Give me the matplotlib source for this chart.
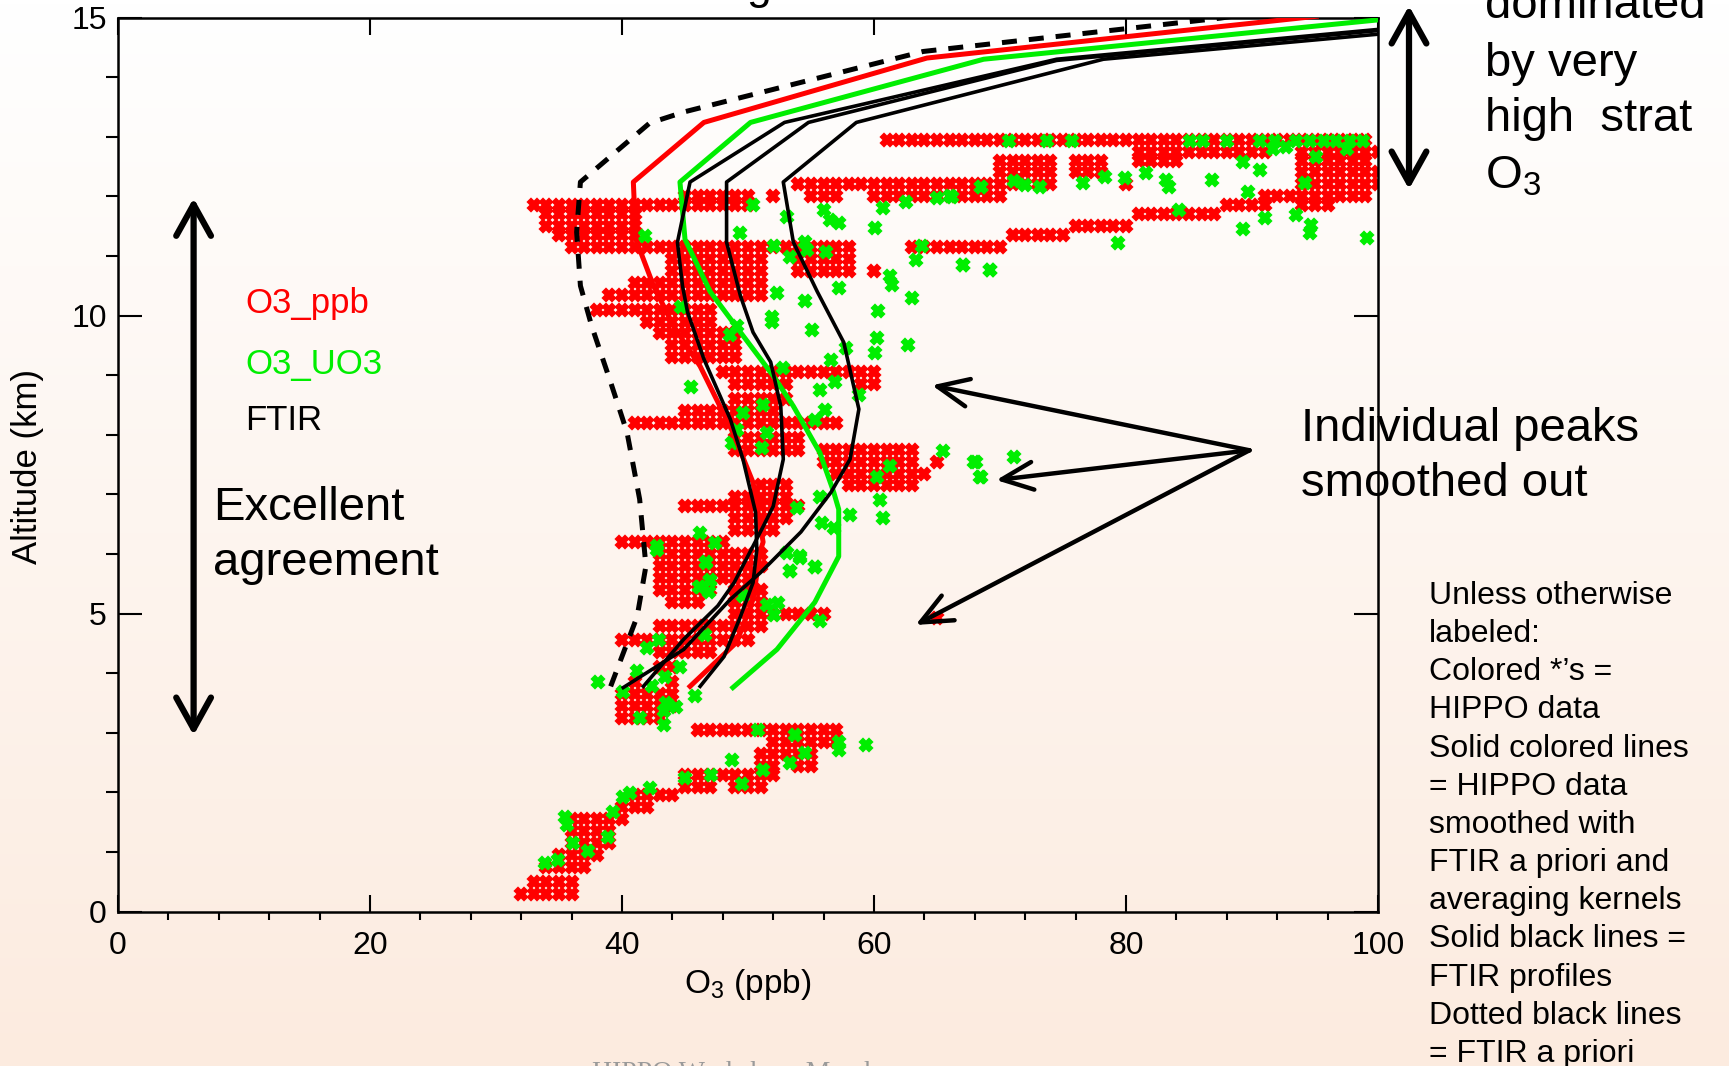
import numpy as np
import matplotlib
matplotlib.use("Agg")
import matplotlib.pyplot as plt

plt.rcParams['font.family'] = ['Liberation Sans', 'DejaVu Sans']
plt.rcParams['mathtext.fontset'] = 'custom'
plt.rcParams['mathtext.rm'] = 'Liberation Sans'
plt.rcParams['mathtext.it'] = 'Liberation Sans:italic'

W, H = 1729, 1066
RED = '#ff0000'
GREEN = '#00ee00'

# smoothed profiles (x = ppb, alt = km)
ppb_alt = [3.78, 4.52, 5.24, 6.07, 6.2, 7.2, 8.04, 9.15, 9.82, 10.5, 11.28, 12.24, 13.24, 14.32, 15.02]
ppb_x = [45.4, 49.1, 50.4, 51.0, 51.2, 50.4, 48.8, 46.2, 44.1, 42.5, 41.1, 40.9, 46.5, 64.2, 95.1]

uo3_alt = [3.76, 4.4, 5.19, 5.96, 6.75, 7.04, 7.7, 8.48, 8.99, 9.72, 10.4, 11.28, 12.24, 13.24, 14.30, 14.96]
uo3_x = [48.8, 52.3, 55.3, 57.2, 57.2, 56.8, 55.7, 53.6, 52.0, 49.4, 47.0, 45.0, 44.6, 50.2, 68.7, 100]

ftir_a_alt = [3.78, 4.28, 4.95, 5.52, 6.07, 6.7, 7.59, 8.26, 9.27, 10.06, 10.5, 11.23, 12.24, 13.24, 14.30, 14.80]
ftir_a_x = [46.2, 48.1, 49.4, 50.4, 50.7, 50.6, 49.6, 48.6, 46.5, 45.2, 44.8, 44.4, 45.4, 52.9, 74.5, 100]

ftir_b_alt = [3.78, 4.57, 5.13, 5.52, 6.46, 6.8, 7.59, 8.48, 9.22, 9.72, 10.33, 11.23, 12.24, 13.24, 14.28, 14.78]
ftir_b_x = [41.7, 44.9, 47.6, 48.9, 51.2, 52.0, 52.8, 52.6, 51.8, 50.4, 49.4, 48.3, 48.3, 54.8, 74.5, 100]

ftir_c_alt = [3.76, 4.4, 5.24, 5.69, 6.37, 7.04, 7.59, 8.43, 9.55, 10.4, 11.23, 12.24, 13.24, 14.30, 14.72]
ftir_c_x = [40.1, 44.9, 48.6, 51.0, 54.2, 56.6, 58.1, 58.8, 57.6, 55.5, 53.6, 52.8, 58.6, 78.2, 100]

apriori_alt = [3.78, 4.95, 5.8, 6.92, 8.04, 8.88, 9.82, 10.5, 11.4, 12.24, 13.23, 13.42, 14.43, 14.99, 15.2]
apriori_x = [39.1, 41.2, 41.9, 41.4, 40.4, 39.1, 37.6, 36.7, 36.4, 36.7, 42.2, 45.0, 63.9, 87.5, 94]

# HIPPO O3_ppb data, one row per altitude level
red_rows = [
    (12.95, [61, 62, 63, 64, 65, 66, 67, 68, 69, 70, 71, 72, 73, 74, 75, 76, 77, 78, 79, 80,
             81, 82, 83, 84, 85, 86, 87, 88, 89, 90, 91, 92, 93, 94, 95, 96, 97, 98, 99]),
    (12.75, [81, 82, 83, 84, 85, 86, 87, 88, 89, 90, 91, 94, 95, 96, 97, 98, 99, 100]),
    (12.6, [70, 71, 72, 73, 74, 76, 77, 78, 81, 82, 83, 84, 94, 95, 96, 97, 98, 99]),
    (12.4, [70, 71, 72, 73, 74, 76, 77, 78, 94, 95, 96, 97, 98, 99, 100]),
    (12.2, [54, 55, 56, 57, 58, 59, 60, 61, 62, 63, 64, 65, 66, 67, 68, 69, 70, 71, 72, 73, 74,
            80, 94, 95, 96, 97, 98, 99, 100]),
    (12.0, [45, 46, 47, 48, 49, 50, 52, 55, 56, 57, 60, 61, 62, 63, 64, 65, 66, 67, 68, 69, 70,
            91, 92, 93, 94, 95, 96, 97, 98, 99]),
    (11.85, [33, 34, 35, 36, 37, 38, 39, 40, 41, 42, 43, 44, 45, 46, 47, 48, 49, 50,
             88, 89, 90, 91, 94, 95, 96]),
    (11.7, [34, 35, 36, 37, 38, 39, 40, 41, 81, 82, 83, 84, 85, 86, 87]),
    (11.5, [34, 35, 36, 37, 38, 39, 40, 41, 76, 77, 78, 79, 80]),
    (11.35, [35, 36, 37, 38, 39, 40, 41, 71, 72, 73, 74, 75]),
    (11.15, [36, 37, 38, 39, 40, 41, 42, 43, 44, 45, 46, 47, 48, 49, 50, 51, 52, 53, 54, 55, 56, 57, 58,
             63, 64, 65, 66, 67, 68, 69, 70]),
    (10.95, [44, 45, 46, 47, 48, 49, 50, 51, 54, 55, 56, 57, 58]),
    (10.75, [44, 45, 46, 47, 48, 49, 50, 51, 54, 55, 56, 57, 58, 60]),
    (10.55, [41, 42, 43, 44, 45, 46, 47, 48, 49, 50, 51]),
    (10.35, [39, 40, 41, 42, 43, 44, 45, 46, 47, 48, 49, 50, 51]),
    (10.1, [38, 39, 40, 41, 42, 43, 44, 45, 46, 47]),
    (9.9, [42, 43, 44, 45, 46, 47]),
    (9.7, [43, 44, 45, 46, 47, 48, 49]),
    (9.5, [44, 45, 46, 47, 48, 49]),
    (9.3, [44, 45, 46, 47, 48, 49]),
    (9.05, [48, 49, 50, 51, 52, 53, 54, 55, 56, 57, 58, 59, 60]),
    (8.85, [49, 50, 51, 52, 53, 59, 60]),
    (8.6, [49, 50, 51, 52, 53]),
    (8.4, [45, 46, 47, 48, 49, 50, 51, 52]),
    (8.2, [41, 42, 43, 44, 45, 46, 47, 48, 49, 50, 51, 52, 53, 54, 55, 56, 57]),
    (7.95, [49, 50, 51, 52, 53, 54]),
    (7.75, [49, 50, 51, 52, 53, 54, 56, 57, 58, 59, 60, 61, 62, 63]),
    (7.55, [56, 57, 58, 59, 60, 61, 62, 63, 65]),
    (7.35, [57, 58, 59, 60, 61, 62, 63, 64]),
    (7.15, [51, 52, 53, 58, 59, 60, 61, 62, 63]),
    (6.95, [49, 50, 51, 52, 53]),
    (6.8, [45, 46, 47, 48, 49, 50, 51, 52, 53, 54]),
    (6.6, [49, 50, 51, 52, 53]),
    (6.4, [49, 50, 51, 52]),
    (6.2, [40, 41, 42, 43, 44, 45, 46, 47, 48]),
    (6.0, [43, 44, 45, 46, 47, 48, 49, 50, 51]),
    (5.8, [43, 44, 45, 46, 47, 48, 49, 50, 51]),
    (5.6, [43, 44, 45, 46, 47, 48, 49, 50]),
    (5.4, [43, 44, 45, 46, 47, 49, 50, 51]),
    (5.2, [44, 45, 46, 49, 50, 51]),
    (5.0, [49, 50, 51, 52, 53, 54, 55, 56]),
    (4.92, [65]),
    (4.8, [43, 44, 45, 46, 47, 48, 49, 50, 51]),
    (4.55, [40, 41, 42, 43, 44, 45, 46, 47, 48, 49, 50]),
    (4.35, [43, 44, 45, 46, 47]),
    (4.1, [43, 44]),
    (3.85, [41, 44]),
    (3.65, [40, 41, 42, 43, 44]),
    (3.45, [40, 41, 42, 43, 44]),
    (3.25, [40, 41, 42, 43]),
    (3.05, [46, 47, 48, 49, 50, 51, 52, 53, 54, 55, 56, 57]),
    (2.85, [52, 53, 54, 55, 56, 57]),
    (2.65, [51, 52, 53, 54, 55]),
    (2.45, [51, 52, 54, 55]),
    (2.3, [45, 46, 47, 48, 49, 50, 51, 52]),
    (2.1, [45, 46, 47, 49, 50, 51]),
    (1.95, [41, 42, 43, 44]),
    (1.75, [40, 41, 42]),
    (1.55, [36, 37, 38, 39, 40]),
    (1.35, [36, 37, 38, 39]),
    (1.15, [36, 37, 38, 39]),
    (0.95, [35, 36, 37, 38]),
    (0.75, [34, 35, 36, 37]),
    (0.5, [33, 34, 35, 36]),
    (0.3, [32, 33, 34, 35, 36]),
]

# HIPPO O3_UO3 data
green_x = [50.4, 49.4, 41.8, 53.1, 56.0, 56.5, 57.2, 60.1, 60.7, 62.5, 65.0, 66.0, 68.5,
           52.1, 54.5, 54.7, 53.3, 56.2, 63.8, 63.3, 67.1, 69.2, 61.3, 61.4, 57.2, 52.3,
           54.5, 63.0, 60.3, 51.9, 51.9, 55.1, 60.2, 62.7, 60.1, 57.8, 56.6, 49.1, 48.6,
           44.7, 45.5, 52.8, 55.7, 56.9, 58.8, 56.1, 55.3, 51.2, 49.6, 51.5, 49.1, 48.7,
           51.1, 65.5, 61.3, 60.2, 60.5, 60.7, 58.1, 55.7, 53.9, 55.9, 56.8, 67.9, 68.4,
           42.8, 46.2, 47.4, 46.7, 46.2, 47.0, 53.1, 54.1, 53.3, 55.3,
           70.7, 73.7, 75.7, 85.1, 86.1, 88.0, 90.6, 91.8, 93.5, 94.6, 95.7, 96.7, 97.8, 98.8,
           91.7, 92.7, 97.5, 95.1, 89.3, 90.6, 81.6, 78.3, 79.9, 83.2, 83.4, 86.8, 76.6,
           71.1, 72.0, 73.2, 68.5, 66.2, 94.2, 89.7, 84.2, 91.0, 93.5, 89.3, 94.7, 94.6,
           99.1, 79.4, 67.1, 69.2, 68.1, 71.1, 68.5,
           42.8, 46.7, 46.1, 47.0, 46.9, 54.1, 53.3, 55.3, 52.4, 51.5, 52.1, 49.6, 55.7,
           46.6, 42.9, 42.0, 41.2, 38.1, 40.1, 42.4, 43.4, 44.6, 45.8, 43.5, 44.3, 43.3,
           41.4, 43.3, 50.8, 53.7, 57.2, 57.2, 59.4, 54.5, 48.7, 53.3, 51.2, 47.1, 45.0,
           49.5, 42.2, 40.1, 40.6, 39.3, 35.5, 35.6, 38.9, 36.1, 37.3, 33.9, 34.9]
green_alt = [11.86, 11.38, 11.33, 11.66, 11.77, 11.6, 11.55, 11.47, 11.8, 11.91, 11.97, 12.0, 12.15,
             11.16, 11.24, 11.1, 10.99, 11.07, 11.16, 10.94, 10.85, 10.77, 10.66, 10.52, 10.46, 10.38,
             10.24, 10.29, 10.07, 9.98, 9.9, 9.76, 9.62, 9.51, 9.37, 9.45, 9.26, 9.82, 9.68,
             10.15, 8.81, 9.12, 8.75, 8.89, 8.67, 8.42, 8.25, 8.5, 8.36, 8.03, 8.08, 7.86,
             7.78, 7.72, 7.47, 7.3, 6.91, 6.6, 6.66, 6.96, 6.77, 6.52, 6.43, 7.55, 7.3,
             6.13, 6.35, 6.18, 5.87, 5.45, 5.57, 6.01, 5.93, 5.71, 5.79,
             12.93, 12.93, 12.93, 12.93, 12.93, 12.93, 12.93, 12.93, 12.93, 12.93, 12.93, 12.93, 12.93, 12.93,
             12.8, 12.83, 12.8, 12.66, 12.58, 12.44, 12.39, 12.33, 12.3, 12.27, 12.16, 12.28, 12.22,
             12.25, 12.19, 12.16, 12.16, 11.99, 12.22, 12.08, 11.77, 11.63, 11.69, 11.46, 11.52, 11.38,
             11.3, 11.21, 10.85, 10.76, 7.55, 7.63, 7.3,
             6.07, 5.85, 5.45, 5.54, 5.37, 5.96, 5.71, 5.79, 5.17, 5.15, 4.98, 5.29, 4.87,
             4.64, 4.56, 4.42, 4.03, 3.86, 3.69, 3.78, 3.94, 4.11, 3.61, 3.5, 3.44, 3.36,
             3.25, 3.13, 3.05, 2.97, 2.85, 2.71, 2.8, 2.66, 2.55, 2.49, 2.38, 2.29, 2.24,
             2.15, 2.07, 1.93, 1.99, 1.68, 1.59, 1.45, 1.26, 1.15, 1.01, 0.81, 0.87]

notes = ["Unless otherwise", "labeled:", "Colored *\u2019s =", "HIPPO data",
         "Solid colored lines", "= HIPPO data", "smoothed with", "FTIR a priori and",
         "averaging kernels", "Solid black lines =", "FTIR profiles",
         "Dotted black lines", "= FTIR a priori"]


def fx(p):
    return p / W


def fy(p):
    return 1 - p / H


fig = plt.figure(figsize=(W / 100, H / 100), dpi=100)

# background: white at top fading to peach at the bottom
bg = fig.add_axes([0, 0, 1, 1], zorder=-10)
top = np.array([255, 255, 255]) / 255
bot = np.array([252, 235, 223]) / 255
t = np.linspace(0, 1, 256)[:, None]
grad = (top[None, :] * (1 - t) + bot[None, :] * t)[:, None, :]
bg.imshow(grad, aspect='auto', extent=[0, 1, 0, 1])
bg.axis('off')

ax = fig.add_axes([fx(118), fy(911.7), fx(1378) - fx(118), fy(17.5) - fy(911.7)])
ax.set_facecolor('none')

rx, ry = [], []
for alt, xs in red_rows:
    for v in xs:
        rx.append(v)
        ry.append(alt)
ax.plot(rx, ry, ls='none', marker='X', ms=9, mew=1.6, mec=RED, color=RED, zorder=2)
ax.plot(green_x, green_alt, ls='none', marker='X', ms=9, mew=1.6, mec=GREEN, color=GREEN, zorder=3)

ax.plot(apriori_x, apriori_alt, color='k', lw=3.6, dashes=(3, 2.4), zorder=4)
ax.plot(ppb_x, ppb_alt, color=RED, lw=3.6, zorder=5)
ax.plot(uo3_x, uo3_alt, color=GREEN, lw=3.6, zorder=5)
for xs, al in [(ftir_a_x, ftir_a_alt), (ftir_b_x, ftir_b_alt), (ftir_c_x, ftir_c_alt)]:
    ax.plot(xs, al, color='k', lw=2.6, zorder=5)

ax.set_xlim(0, 100)
ax.set_ylim(0, 15)
ax.set_xticks([0, 20, 40, 60, 80, 100])
ax.set_xticks(np.arange(0, 101, 4), minor=True)
ax.set_yticks([0, 5, 10, 15])
ax.set_yticks(np.arange(0, 16, 1), minor=True)
ax.tick_params(direction='in', top=True, right=True, labelsize=23, width=1.5)
ax.tick_params(axis='x', which='major', length=12, pad=14)
ax.tick_params(axis='x', which='minor', length=6, width=1.5)
ax.tick_params(axis='y', which='major', length=17, pad=8)
ax.tick_params(axis='y', which='minor', length=8.6, width=1.5)
for s in ax.spines.values():
    s.set_linewidth(1.8)

fig.text(fx(28), fy(466), 'Altitude (km)', rotation=90, ha='center', va='center', fontsize=25)
fig.text(fx(748), fy(985), r'O$_\mathrm{3}$ (ppb)', ha='center', va='center', fontsize=24)

# legend-like labels
fig.text(fx(245), fy(304), 'O3_ppb', color=RED, fontsize=25, va='center')
fig.text(fx(245), fy(364), 'O3_UO3', color=GREEN, fontsize=25, va='center')
fig.text(fx(245), fy(420), 'FTIR', color='k', fontsize=25, va='center')

fig.text(fx(213), fy(508), 'Excellent', fontsize=34, va='center')
fig.text(fx(213), fy(563), 'agreement', fontsize=34, va='center')

fig.text(fx(1301), fy(429), 'Individual peaks', fontsize=34, va='center')
fig.text(fx(1301), fy(484), 'smoothed out', fontsize=34, va='center')

for txt, yy in [('dominated', 5.5), ('by very', 64), ('high  strat', 119), (r'O$_\mathrm{3}$', 176)]:
    fig.text(fx(1485), fy(yy), txt, fontsize=34, va='center')

fig.text(fx(1429), fy(581), '\n'.join(notes), fontsize=23, va='top', linespacing=1.355)

# partly cut title and footer
fig.text(fx(790), fy(-1.5), 'Smoothing HIPPO data', fontsize=32, ha='center', va='baseline')
fig.text(fx(735), fy(1061), 'HIPPO Workshop, March', fontsize=20, ha='center', va='top',
         family='Liberation Serif', color='#9a9a9a')

# arrows
ax.annotate('', xy=(6, 11.97), xytext=(6, 2.96),
            arrowprops=dict(arrowstyle='<->,head_length=0.9,head_width=0.5', lw=4.5, color='k',
                            shrinkA=0, shrinkB=0, mutation_scale=25))
fig.patches.append(matplotlib.patches.FancyArrowPatch(
    (fx(1409), fy(192)), (fx(1409), fy(3)), transform=fig.transFigure,
    arrowstyle='<->,head_length=0.9,head_width=0.5', lw=4.5, color='k', mutation_scale=25))

for tip in [(64.6, 8.83), (69.7, 7.24), (63.3, 4.81)]:
    ax.annotate('', xy=tip, xytext=(89.8, 7.74),
                arrowprops=dict(arrowstyle='->,head_length=0.9,head_width=0.4', lw=3.2, color='k',
                                shrinkA=0, shrinkB=0, mutation_scale=25),
                annotation_clip=False)

fig.savefig('out.png', dpi=100)
